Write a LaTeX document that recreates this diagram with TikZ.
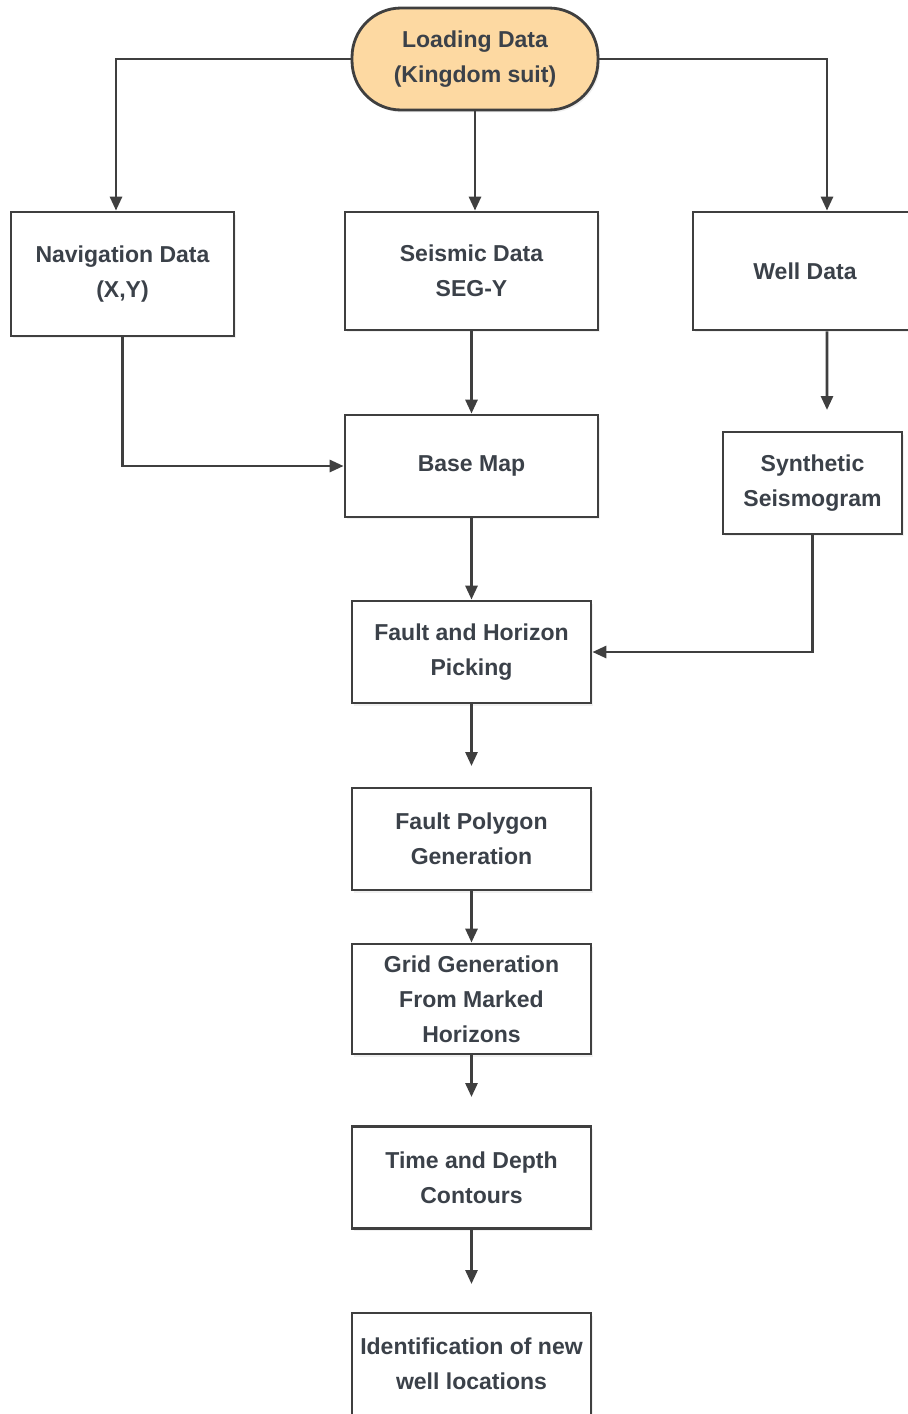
\documentclass[tikz,border=0pt]{standalone}
\usepackage{fontspec}
\setmainfont{Liberation Sans}
\usepackage{tikz}
\usetikzlibrary{arrows.meta,shadows}

\definecolor{inkgray}{HTML}{3B4149}
\definecolor{linegray}{HTML}{3F3F3F}
\definecolor{peach}{HTML}{FDD9A2}

\begin{document}
\begin{tikzpicture}[x=0.02cm,y=-0.02cm,->,>={Triangle[length=0.28cm,width=0.24cm]},line width=1.6pt,draw=linegray,
    box/.style={rectangle,draw=linegray,fill=white,line width=1.6pt,inner sep=0pt,align=center,text=inkgray,
      font=\fontsize{13.1}{19.9}\selectfont\bfseries,minimum height=2.04cm,
      drop shadow={opacity=0.12,shadow xshift=0.04cm,shadow yshift=-0.05cm}},
    start box/.style={box,fill=peach,rounded corners=0.98cm}]
  \useasboundingbox (0,0) rectangle (907,1414);
    \node[start box,minimum width=4.92cm] (load) at (475,59) {Loading Data\\(Kingdom suit)};
    \node[box,minimum width=4.46cm,minimum height=2.48cm] (nav) at (122.5,274) {Navigation Data\\(X,Y)};
    \node[box,minimum width=5.06cm,minimum height=2.36cm] (seis) at (471.5,271) {Seismic Data\\SEG-Y};
    \node[box,minimum width=4.48cm,minimum height=2.36cm] (well) at (805,271) {Well Data};
    \node[box,minimum width=5.06cm] (base) at (471.5,466) {Base Map};
    \node[box,minimum width=3.58cm] (syn) at (812.5,483) {Synthetic\\Seismogram};
    \node[box,minimum width=4.78cm] (fhp) at (471.5,652) {Fault and Horizon\\Picking};
    \node[box,minimum width=4.78cm] (fpg) at (471.5,839) {Fault Polygon\\Generation};
    \node[box,minimum width=4.78cm,minimum height=2.2cm] (grid) at (471.5,999) {Grid Generation\\From Marked\\Horizons};
    \node[box,minimum width=4.78cm] (tdc) at (471.5,1177.5) {Time and Depth\\Contours};
    \node[box,minimum width=4.78cm] (newwell) at (471.5,1364) {Identification of new\\well locations};
    % free arrow ends
    \coordinate (synin) at (827,410);
    \coordinate (fpgin) at (471.5,766);
    \coordinate (tdcin) at (471.5,1097);
    \coordinate (newin) at (471.5,1284);

    \draw (load.west) -| ([xshift=-0.13cm]nav.north);
    \draw (load.south) -- (load.south |- seis.north);
    \draw (load.east) -| ([xshift=0.44cm]well.north);
    \draw ([xshift=0.44cm]well.south) -- (synin);
    \draw (nav.south) |- (base.west);
    \draw (seis) -- (base);
    \draw (base) -- (fhp);
    \draw (syn.south) |- (fhp.east);
    \draw (fhp) -- (fpgin);
    \draw (fpg) -- (grid);
    \draw (grid) -- (tdcin);
    \draw (tdc) -- (newin);
  \end{tikzpicture}
\end{document}
